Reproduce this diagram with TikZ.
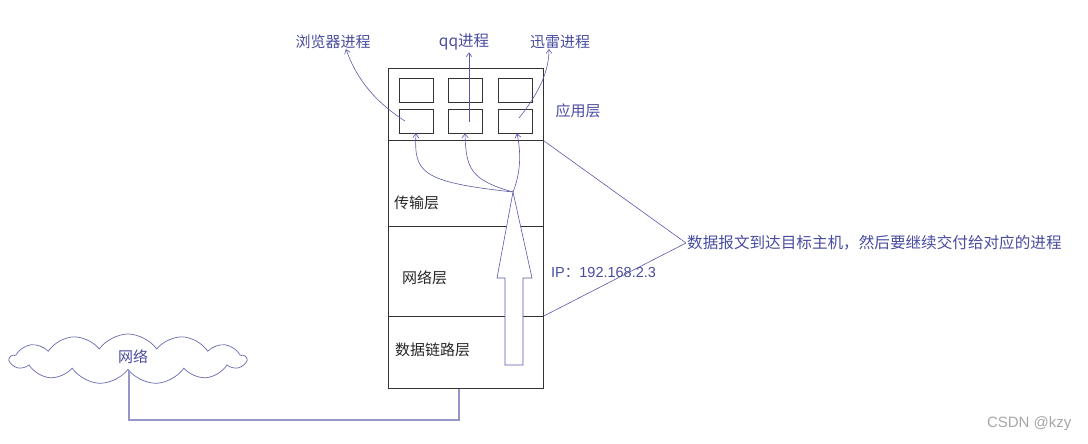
\documentclass[tikz,border=0pt]{standalone}
\usepackage{fontspec}
\setmainfont{Liberation Sans}
\newfontfamily\cjk{Noto Sans CJK SC}
\usetikzlibrary{arrows.meta,shapes.symbols,calc}
\definecolor{tblue}{RGB}{72,76,158}
\definecolor{lblue}{RGB}{88,88,168}
\definecolor{lav}{RGB}{150,150,200}
\begin{document}
\begin{tikzpicture}[x=1pt,y=-1pt,
  layer/.style={draw=black!80,line width=0.8pt,minimum width=155pt,anchor=north west,inner sep=0pt},
  sbox/.style={draw=black!80,line width=0.7pt,minimum width=34pt,minimum height=24pt,inner sep=0pt},
  btxt/.style={font=\cjk\fontsize{15}{17}\selectfont,text=tblue,inner sep=1pt},
  ktxt/.style={font=\cjk\fontsize{15}{17}\selectfont,text=black!85,inner sep=1pt},
  conn/.style={draw=lblue,line width=0.6pt,-{Straight Barb[length=4pt,width=6pt]}},
  lline/.style={draw=lblue,line width=0.6pt}]
\useasboundingbox (0,0) rectangle (1088,444);
% layers
\node[layer,minimum height=72pt] (app) at (388,68) {};
\node[layer,minimum height=86pt] (trans) at (388,140) {};
\node[layer,minimum height=90pt] (net) at (388,226) {};
\node[layer,minimum height=72pt] (link) at (388,316) {};
% small boxes
\node[sbox] (b1) at (416,90) {};
\node[sbox] (b2) at (465,90) {};
\node[sbox] (b3) at (515,90) {};
\node[sbox] (b4) at (416,121) {};
\node[sbox] (b5) at (465,121) {};
\node[sbox] (b6) at (515,121) {};
% labels
\node[btxt] (p1) at (333,42) {浏览器进程};
\node[btxt,font=\cjk\fontsize{15.5}{17}\selectfont] (p2) at (464,42) {qq进程};
\node[btxt] (p3) at (560,42) {迅雷进程};
\node[btxt] (appl) at (578,111) {应用层};
\node[ktxt,anchor=west] (tl) at (393,203) {传输层};
\node[ktxt,anchor=west] (nl) at (401,278) {网络层};
\node[ktxt,anchor=west] (dl) at (394,350) {数据链路层};
\node[btxt,anchor=west,font=\cjk\fontsize{15.6}{18}\selectfont] (msg) at (686,243) {数据报文到达目标主机，然后要继续交付给对应的进程};
\node[btxt,anchor=west,font=\fontsize{14.5}{17}\selectfont] (ip) at (550,273) {IP{\cjk ：}192.168.2.3};
\node[text=black!35,font=\fontsize{15}{17}\selectfont,anchor=east] (wm) at (1075,424) {CSDN @kzy};
% cloud
\node[cloud,cloud puffs=13,cloud puff arc=110,aspect=4.6,draw=lblue!90,line width=0.7pt,minimum width=236pt,minimum height=50pt,inner sep=0pt] (cl) at (128,359) {};
\node[btxt] (cll) at (133,357) {网络};
% process arrows
\coordinate (s4) at ($(b4.center)+(-11,0)$);
\coordinate (s5) at ($(b5.center)+(4,1)$);
\coordinate (s6) at ($(b6.center)+(4,-3)$);
\coordinate (e1) at ($(p1.south)+(13,-1)$);
\coordinate (e2) at ($(p2.south)+(5,1)$);
\coordinate (e3) at ($(p3.south)+(-11,-1)$);
\draw[conn] (s4) .. controls (372,100) and (355,75) .. (e1);
\draw[conn] (s5) -- (e2);
\draw[conn] (s6) .. controls (535,98) and (549,75) .. (e3);
% transport arrows
\coordinate (tip) at (513,192);
\draw[conn] (tip) .. controls (420,182) and (414,172) .. (b4.south);
\draw[conn] (tip) .. controls (470,180) and (466,168) .. (b5.south);
\draw[conn] (tip) .. controls (521,172) and (521,152) .. ($(b6.south)+(2,0)$);
% hollow arrow
\draw[lblue,line width=0.6pt,fill=white] (505,365) -- (523,365) -- (523,278) -- (532,278) -- (tip) -- (497,278) -- (505,278) -- cycle;
% brace lines
\draw[lline] (app.south east) -- (msg.west);
\draw[lline] (link.north east) -- (msg.west);
% network line
\coordinate (lk) at ($(link.south west)+(71,0)$);
\draw[lav,line width=1.5pt] ($(cl.south)+(1,0)$) |- (lk |- 0,420) -- (lk);
\end{tikzpicture}
\end{document}
